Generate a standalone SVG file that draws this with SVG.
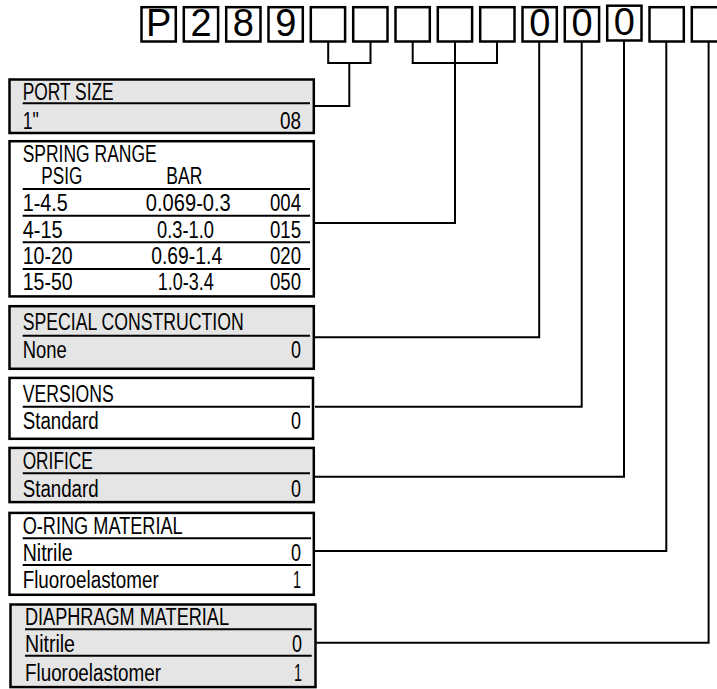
<svg xmlns="http://www.w3.org/2000/svg" width="717" height="689" viewBox="0 0 717 689">
<style>
.bg{fill:#fff}
.cb{fill:#fff;stroke:#000;stroke-width:2.5}
.g{fill:#e5e5e5;stroke:#000;stroke-width:2.5}
.w{fill:#fff;stroke:#000;stroke-width:2.5}
.dv{stroke:#000;stroke-width:2}
.cn{fill:none;stroke:#000;stroke-width:2}
.big{font-family:"Liberation Sans",Arial,sans-serif;font-size:38px;text-anchor:middle;fill:#000}
.t{font-family:"Liberation Sans",Arial,sans-serif;font-size:23px;fill:#000}
.e{text-anchor:end}
.m{text-anchor:middle}
</style>
<rect class="bg" x="0" y="0" width="717" height="689"/>
<g id="code">
<rect class="cb" x="141.5" y="7.2" width="34.3" height="34.3"/>
<rect class="cb" x="183.8" y="7.2" width="34.3" height="34.3"/>
<rect class="cb" x="226.2" y="7.2" width="34.3" height="34.3"/>
<rect class="cb" x="268.5" y="7.2" width="34.3" height="34.3"/>
<rect class="cb" x="310.8" y="7.2" width="34.3" height="34.3"/>
<rect class="cb" x="353.2" y="7.2" width="34.3" height="34.3"/>
<rect class="cb" x="395.5" y="7.2" width="34.3" height="34.3"/>
<rect class="cb" x="437.8" y="7.2" width="34.3" height="34.3"/>
<rect class="cb" x="480.2" y="7.2" width="34.3" height="34.3"/>
<rect class="cb" x="522.5" y="7.2" width="34.3" height="34.3"/>
<rect class="cb" x="564.8" y="7.2" width="34.3" height="34.3"/>
<rect class="cb" x="607.2" y="5.7" width="34.3" height="34.8"/>
<rect class="cb" x="649.5" y="7.2" width="34.3" height="34.3"/>
<rect class="cb" x="691.8" y="7.2" width="34.3" height="34.3"/>
<text class="big" x="158.7" y="36">P</text>
<text class="big" x="201" y="36">2</text>
<text class="big" x="243.3" y="36">8</text>
<text class="big" x="285.7" y="36">9</text>
<text class="big" x="539.7" y="36">0</text>
<text class="big" x="582" y="36">0</text>
<text class="big" x="624.3" y="35">0</text>
</g>
<g id="connectors">
<path class="cn" d="M328.2,42 V63 H370.5 V42 M349.3,63 V106 H315"/>
<path class="cn" d="M412.7,42 V63 H497 V42 M455,42 V223 H315"/>
<path class="cn" d="M539.2,42 V337.3 H315"/>
<path class="cn" d="M581.7,42 V406.7 H315"/>
<path class="cn" d="M624,41 V476.7 H315"/>
<path class="cn" d="M666.3,42 V551 H315"/>
<path class="cn" d="M708.6,42 V642.7 H316.5"/>
</g>
<g id="port-size">
<rect class="g" x="9.5" y="79.5" width="304.3" height="53.5"/>
<line class="dv" x1="22.7" y1="103.3" x2="310" y2="103.3"/>
<text class="t" x="22.7" y="99.5" textLength="91" lengthAdjust="spacingAndGlyphs">PORT SIZE</text>
<text class="t" x="22.7" y="128.5" textLength="16" lengthAdjust="spacingAndGlyphs">1"</text>
<text class="t e" x="301" y="128.5" textLength="21" lengthAdjust="spacingAndGlyphs">08</text>
</g>
<g id="spring-range">
<rect class="w" x="9.5" y="141.2" width="304.3" height="155.2"/>
<text class="t" x="22.7" y="162" textLength="134" lengthAdjust="spacingAndGlyphs">SPRING RANGE</text>
<text class="t" x="41.3" y="184" textLength="41" lengthAdjust="spacingAndGlyphs">PSIG</text>
<text class="t" x="166.3" y="184" textLength="36" lengthAdjust="spacingAndGlyphs">BAR</text>
<line class="dv" x1="22.7" y1="189" x2="310" y2="189"/>
<line class="dv" x1="22.7" y1="215.7" x2="310" y2="215.7"/>
<line class="dv" x1="22.7" y1="242.3" x2="310" y2="242.3"/>
<line class="dv" x1="22.7" y1="269" x2="310" y2="269"/>
<text class="t" x="22.7" y="211" textLength="45" lengthAdjust="spacingAndGlyphs">1-4.5</text>
<text class="t m" x="188.3" y="211" textLength="85" lengthAdjust="spacingAndGlyphs">0.069-0.3</text>
<text class="t e" x="301" y="211" textLength="31" lengthAdjust="spacingAndGlyphs">004</text>
<text class="t" x="22.7" y="237.5" textLength="40" lengthAdjust="spacingAndGlyphs">4-15</text>
<text class="t m" x="185.5" y="237.5" textLength="57" lengthAdjust="spacingAndGlyphs">0.3-1.0</text>
<text class="t e" x="301" y="237.5" textLength="31" lengthAdjust="spacingAndGlyphs">015</text>
<text class="t" x="22.7" y="264" textLength="50" lengthAdjust="spacingAndGlyphs">10-20</text>
<text class="t m" x="186.7" y="264" textLength="71" lengthAdjust="spacingAndGlyphs">0.69-1.4</text>
<text class="t e" x="301" y="264" textLength="31" lengthAdjust="spacingAndGlyphs">020</text>
<text class="t" x="22.7" y="290" textLength="50" lengthAdjust="spacingAndGlyphs">15-50</text>
<text class="t m" x="185.8" y="290" textLength="56" lengthAdjust="spacingAndGlyphs">1.0-3.4</text>
<text class="t e" x="301" y="290" textLength="31" lengthAdjust="spacingAndGlyphs">050</text>
</g>
<g id="special-construction">
<rect class="g" x="9.5" y="306.2" width="304.3" height="62.6"/>
<line class="dv" x1="22.7" y1="335.7" x2="310" y2="335.7"/>
<text class="t" x="22.7" y="330" textLength="221" lengthAdjust="spacingAndGlyphs">SPECIAL CONSTRUCTION</text>
<text class="t" x="22.7" y="358" textLength="44" lengthAdjust="spacingAndGlyphs">None</text>
<text class="t e" x="301" y="358" textLength="10" lengthAdjust="spacingAndGlyphs">0</text>
</g>
<g id="versions">
<rect class="w" x="9.5" y="377.9" width="303.5" height="60.9"/>
<line class="dv" x1="22.7" y1="406.7" x2="310" y2="406.7"/>
<text class="t" x="22.7" y="401.5" textLength="91" lengthAdjust="spacingAndGlyphs">VERSIONS</text>
<text class="t" x="22.7" y="429" textLength="76" lengthAdjust="spacingAndGlyphs">Standard</text>
<text class="t e" x="301" y="429" textLength="10" lengthAdjust="spacingAndGlyphs">0</text>
</g>
<g id="orifice">
<rect class="g" x="9.5" y="447.9" width="304.3" height="54.2"/>
<line class="dv" x1="22.7" y1="473.3" x2="310" y2="473.3"/>
<text class="t" x="22.7" y="468.5" textLength="70" lengthAdjust="spacingAndGlyphs">ORIFICE</text>
<text class="t" x="22.7" y="496.5" textLength="76" lengthAdjust="spacingAndGlyphs">Standard</text>
<text class="t e" x="301" y="496.5" textLength="10" lengthAdjust="spacingAndGlyphs">0</text>
</g>
<g id="o-ring-material">
<rect class="w" x="9.5" y="512.9" width="304.3" height="81.9"/>
<line class="dv" x1="22.7" y1="538.3" x2="311" y2="538.3"/>
<line class="dv" x1="22.7" y1="565" x2="311" y2="565"/>
<text class="t" x="22.7" y="533.5" textLength="160" lengthAdjust="spacingAndGlyphs">O-RING MATERIAL</text>
<text class="t" x="22.7" y="560.5" textLength="50" lengthAdjust="spacingAndGlyphs">Nitrile</text>
<text class="t e" x="301" y="560.5" textLength="10" lengthAdjust="spacingAndGlyphs">0</text>
<text class="t" x="22.7" y="587.5" textLength="136" lengthAdjust="spacingAndGlyphs">Fluoroelastomer</text>
<text class="t e" x="301" y="587.5" textLength="8" lengthAdjust="spacingAndGlyphs">1</text>
</g>
<g id="diaphragm-material">
<rect class="g" x="10.5" y="604.5" width="305" height="82.6"/>
<line class="dv" x1="25" y1="629.3" x2="311.7" y2="629.3"/>
<line class="dv" x1="25" y1="655.7" x2="311.7" y2="655.7"/>
<text class="t" x="25" y="625" textLength="204" lengthAdjust="spacingAndGlyphs">DIAPHRAGM MATERIAL</text>
<text class="t" x="25" y="652" textLength="50" lengthAdjust="spacingAndGlyphs">Nitrile</text>
<text class="t e" x="302" y="652" textLength="10" lengthAdjust="spacingAndGlyphs">0</text>
<text class="t" x="25" y="680.5" textLength="136" lengthAdjust="spacingAndGlyphs">Fluoroelastomer</text>
<text class="t e" x="302" y="680.5" textLength="8" lengthAdjust="spacingAndGlyphs">1</text>
</g>
</svg>
